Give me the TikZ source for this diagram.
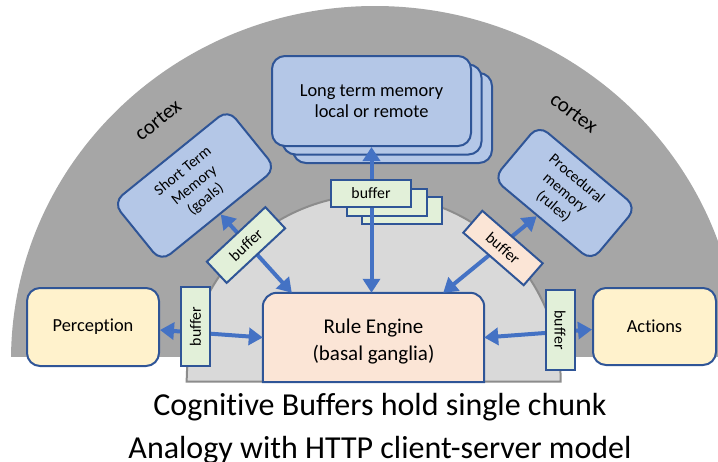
\documentclass[tikz,border=0pt]{standalone}
\usepackage{fontspec}
\setmainfont{Carlito}[Ligatures=NoCommon]
\usetikzlibrary{arrows.meta,calc}
\definecolor{cortexgray}{HTML}{A6A6A6}
\definecolor{basalgray}{HTML}{D9D9D9}
\definecolor{basalline}{HTML}{8C8C8C}
\definecolor{boxblue}{HTML}{B4C7E7}
\definecolor{edgeblue}{HTML}{2F5597}
\definecolor{boxyellow}{HTML}{FFF2CC}
\definecolor{boxpeach}{HTML}{FBE5D6}
\definecolor{boxgreen}{HTML}{E2F0D9}
\definecolor{arrowblue}{HTML}{4472C4}
\begin{document}
\begin{tikzpicture}[x=1pt,y=-1pt,
  box/.style={draw=edgeblue, line width=2pt, rounded corners=13pt, align=center, inner sep=0pt, text=black},
  membox/.style={box, fill=boxblue},
  midfont/.style={font=\fontsize{18.4}{21.5}\selectfont},
  smallfont/.style={font=\fontsize{15.3}{18}\selectfont},
  bufbox/.style={draw=edgeblue, line width=2pt, fill=boxgreen, inner sep=0pt, minimum width=80pt, minimum height=29pt, font=\fontsize{15.8}{18}\selectfont},
  conn/.style={draw=arrowblue, line width=4pt, >={Triangle[length=14pt,width=17pt]}, <->},
  ]
\useasboundingbox (0,0) rectangle (718,461);
% cortex
\begin{scope}
  \clip (0,0) rectangle (718,356);
  \fill[cortexgray] (375,360) ellipse [x radius=364pt, y radius=354pt];
\end{scope}
% basal ganglia
\draw[fill=basalgray, draw=basalline, line width=2pt] (560.7,381.7) arc[start angle=0, end angle=180, radius=187pt] -- cycle;

% long term memory stack
\node (ltmC) [membox, minimum width=199pt, minimum height=90pt] at (392.5,118) {};
\node (ltmB) [membox, minimum width=199pt, minimum height=90pt] at (382,109.5) {};
\node (ltm)  [membox, midfont, minimum width=199pt, minimum height=90pt] at (371.5,101) {Long term memory\\local or remote};

% short term and procedural memory
\node (stm) [membox, smallfont, rounded corners=12pt, minimum width=148pt, minimum height=76pt, rotate=39] at (194.5,185.5) {Short Term\\Memory\\(goals)};
\node (proc) [membox, smallfont, rounded corners=12pt, minimum width=128pt, minimum height=70pt, rotate=-40] at (565,193) {Procedural\\memory\\(rules)};

% perception and actions
\node (perc) [box, fill=boxyellow, midfont, minimum width=132pt, minimum height=78pt] at (93,327) {Perception};
\node (act)  [box, fill=boxyellow, midfont, minimum width=123pt, minimum height=77pt] at (654.5,326.5) {Actions};

% rule engine
\node (rule) [inner sep=0pt, minimum width=221pt, minimum height=89pt] at (373.5,337.5) {};
\draw[draw=edgeblue, line width=2pt, fill=boxpeach]
  (rule.south west) -- ([yshift=-14pt]rule.north west)
  arc[start angle=180, end angle=90, radius=14pt]
  -- ([xshift=-14pt]rule.north east)
  arc[start angle=90, end angle=0, radius=14pt]
  -- (rule.south east) -- cycle;
\node (ruletext) [align=center, inner sep=0pt, font=\fontsize{21}{27}\selectfont] at ([yshift=-4pt]rule.center) {Rule Engine\\(basal ganglia)};

% back buffers of the stack
\node (bufltmC) [bufbox, minimum height=27pt] at (402,210.5) {};
\node (bufltmB) [bufbox, minimum height=27pt] at (386.5,202) {};

% connectors
\draw[conn] (ltm.south) -- (ltm.south |- rule.north);
\draw[conn] (stm) -- ($(rule.north west)+(29,0)$);
\draw[conn] (proc) -- ($(rule.north east)+(-41,0)$);
\draw[conn] ([yshift=-3pt]perc.east) -- (rule.west);
\draw[conn] (rule.east) -- ([yshift=-3pt]act.west);

% buffers
\node (bufltm) [bufbox, minimum height=27pt] at (371,193.5) {buffer};
\node (bufstm) [bufbox, rotate=43] at (246,245) {buffer};
\node (bufproc) [bufbox, fill=boxpeach, rotate=-41] at (503,248) {buffer};
\node (bufperc) [bufbox, minimum width=79pt, rotate=90] at (195.5,326.5) {buffer};
\node (bufact) [bufbox, minimum width=80pt, rotate=-90] at (560,330) {buffer};

% labels
\node (cortexL) [rotate=39, inner sep=0pt, font=\fontsize{21}{25}\selectfont] at (158,120) {cortex};
\node (cortexR) [rotate=-37, inner sep=0pt, font=\fontsize{21}{25}\selectfont] at (574,113) {cortex};
\node (cap1) [anchor=base, inner sep=0pt, font=\fontsize{32}{38}\selectfont] at (380,415) {Cognitive Buffers hold single chunk};
\node (cap2) [anchor=base, inner sep=0pt, font=\fontsize{32}{38}\selectfont] at (380,458) {Analogy with HTTP client-server model};
\end{tikzpicture}
\end{document}
